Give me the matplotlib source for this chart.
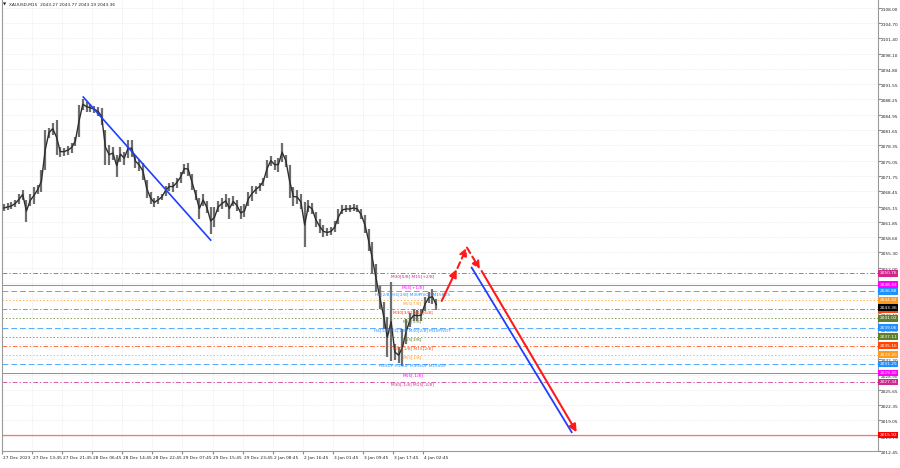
import matplotlib
matplotlib.use("Agg")
import matplotlib.pyplot as plt
import numpy as np

# ---------------- data ----------------
header_text = "XAUUSD,M15  2043.27 2043.77 2043.19 2043.36"

# price range per column (each column = 4 M15 bars)
bars_per_column = 4
highs = [2065.60, 2065.81, 2066.03, 2066.67, 2067.75, 2068.82, 2066.67, 2067.75, 2069.47, 2069.90,
         2073.12, 2081.73, 2082.16, 2083.23, 2083.88, 2078.07, 2077.85, 2078.28, 2078.93, 2080.22,
         2087.10, 2088.39, 2087.75, 2087.32, 2086.89, 2086.67, 2086.46, 2081.73, 2078.50, 2078.07,
         2076.35, 2078.07, 2076.99, 2079.57, 2079.57, 2076.35, 2075.27, 2074.63, 2070.97, 2068.39,
         2067.10, 2067.53, 2067.96, 2069.68, 2070.33, 2070.54, 2071.40, 2072.69, 2074.41, 2074.63,
         2072.26, 2068.82, 2067.10, 2067.96, 2066.24, 2064.95, 2064.95, 2066.24, 2067.10, 2067.75,
         2067.10, 2067.32, 2066.67, 2065.17, 2065.60, 2068.39, 2069.68, 2069.68, 2070.33, 2071.40,
         2075.27, 2076.13, 2075.27, 2075.70, 2078.93, 2076.35, 2074.20, 2069.47, 2068.82, 2067.75,
         2066.03, 2066.67, 2065.81, 2063.88, 2062.37, 2061.08, 2060.43, 2060.65, 2061.94, 2064.52,
         2065.38, 2065.38, 2065.38, 2065.60, 2065.38, 2064.52, 2063.23, 2060.22, 2057.42, 2052.69,
         2047.96, 2044.52, 2041.30, 2048.82, 2035.49, 2034.84, 2038.72, 2040.87, 2042.16, 2043.02,
         2042.80, 2043.02, 2045.60, 2046.67, 2047.32, 2045.17]
lows = [2064.09, 2064.31, 2064.52, 2064.95, 2065.60, 2066.67, 2061.72, 2065.17, 2065.60, 2067.75,
        2068.18, 2073.12, 2080.00, 2080.65, 2076.35, 2075.92, 2076.13, 2076.35, 2076.78, 2078.28,
        2080.22, 2086.03, 2085.60, 2085.60, 2085.38, 2084.74, 2082.80, 2074.20, 2074.20, 2075.27,
        2071.62, 2074.84, 2074.20, 2075.70, 2075.92, 2073.55, 2072.90, 2070.97, 2067.10, 2065.60,
        2064.95, 2065.60, 2066.46, 2067.53, 2068.61, 2068.39, 2069.25, 2070.33, 2072.26, 2071.83,
        2068.82, 2066.67, 2062.37, 2065.17, 2063.66, 2059.15, 2060.65, 2063.88, 2064.52, 2064.95,
        2062.37, 2065.17, 2064.09, 2062.37, 2062.80, 2065.17, 2066.24, 2067.96, 2068.61, 2069.68,
        2071.40, 2073.98, 2073.12, 2072.69, 2074.84, 2073.77, 2067.10, 2065.17, 2065.60, 2064.52,
        2056.35, 2063.88, 2063.45, 2060.65, 2059.36, 2058.50, 2058.71, 2058.93, 2059.57, 2061.30,
        2063.45, 2063.88, 2063.88, 2064.09, 2063.88, 2062.37, 2059.36, 2055.49, 2050.54, 2046.67,
        2043.02, 2038.72, 2032.69, 2031.83, 2032.05, 2031.40, 2030.76, 2035.49, 2039.15, 2040.44,
        2040.44, 2040.44, 2042.59, 2044.31, 2044.09, 2042.80]

time_labels = ["27 Dec 2023", "27 Dec 13:45", "27 Dec 21:45", "28 Dec 06:45", "28 Dec 14:45",
               "28 Dec 22:45", "29 Dec 07:45", "29 Dec 15:45", "29 Dec 23:45", "2 Jan 08:45",
               "2 Jan 16:45", "3 Jan 01:45", "3 Jan 09:45", "3 Jan 17:45", "4 Jan 02:45"]
bars_per_label = 32

price_ticks = [2108.00, 2104.70, 2101.40, 2098.10, 2094.80, 2091.55, 2088.25, 2084.95, 2081.65,
               2078.35, 2075.05, 2071.75, 2068.45, 2065.15, 2061.85, 2058.60, 2055.30, 2052.00,
               2048.70, 2045.40, 2042.10, 2038.80, 2035.50, 2032.20, 2028.90, 2025.65, 2022.35,
               2019.05, 2015.75, 2012.45]

levels = [2050.76, 2048.33, 2046.88, 2044.92, 2042.97, 2041.02, 2039.06, 2037.11, 2035.16,
          2033.20, 2031.25, 2029.30, 2027.34]
level_names = ["M30[5/8] M15[+2/8]", "M15[+1/8]", "H4[2/8] H1[2/8] M30PIVOT M15RES", "M15[7/8]",
               "M30[3/8] M15[6/8]", "M15[5/8]", "H4[1/8] H1[1/8] M30[2/8] M15PIVOT", "M15[3/8]",
               "M30[1/8] M15[2/8]", "M15[1/8]", "H4SUP H1SUP M30SUP M15SUP", "M15[-1/8]",
               "M30[-1/8] M15[-2/8]"]
level_colors = ["#d0278c", "#ff00ff", "#1e90ff", "#ff9a1a", "#ff4500", "#5f7f2a", "#1e90ff",
                "#5f7f2a", "#ff4500", "#ff9a1a", "#1e90ff", "#ff00ff", "#d0278c"]
level_styles = ["dashdot", "solid", "dashed", "dotted", "dashdot", "dotted", "dashed",
                "dotted", "dashdot", "dotted", "dashed", "solid", "dashdot"]

current_price = 2043.36
target_price = 2015.92

# drawn objects: (bar index, price)
trend_x = [86.5, 222.0]
trend_y = [2088.76, 2057.92]
fc_up_x = [467.8, 483.7]
fc_up_y = [2044.80, 2051.62]
fc_dash1_x = [484.6, 494.4]
fc_dash1_y = [2051.90, 2056.29]
fc_dash2_x = [494.7, 508.5]
fc_dash2_y = [2056.29, 2051.62]
fc_down_x = [510.3, 611.4]
fc_down_y = [2051.25, 2016.50]
blue_down_x = [499.7, 606.1]
blue_down_y = [2051.98, 2016.50]

# ---------------- figure ----------------
W, H = 900, 468
fig = plt.figure(figsize=(W / 100, H / 100), dpi=100)
ax = fig.add_axes([2 / W, 17 / H, 876 / W, 451 / H])
ax.set_xlim(0, 932)
ax.set_ylim(2012.70, 2109.68)

ax.spines["top"].set_visible(False)
for s in ["left", "right", "bottom"]:
    ax.spines[s].set_color("#9a9a9a")
    ax.spines[s].set_linewidth(0.8)

style_map = {"solid": "-", "dashed": (0, (6, 3)), "dotted": (0, (1.5, 2)),
             "dashdot": (0, (5, 2, 1.5, 2))}

# grid
label_pos = np.arange(len(time_labels)) * bars_per_label
ax.set_xticks(label_pos)
ax.set_yticks(price_ticks)
ax.tick_params(axis="x", length=2, color="#8c8c8c", labelbottom=False)
ax.tick_params(axis="y", length=2, color="#8c8c8c", left=False, right=True,
               labelleft=False, labelright=False)
ax.grid(True, color="#e2e2e2", linestyle=(0, (1, 1.5)), linewidth=0.5)
ax.set_axisbelow(True)

# level lines
for lv, c, st in zip(levels, level_colors, level_styles):
    ax.axhline(lv, color=c, linestyle=style_map[st], linewidth=0.7, alpha=0.75, zorder=1)
ax.axhline(target_price, color="#ff5050", linewidth=0.9, alpha=0.8, zorder=2)

# price bars
xs = np.arange(len(highs)) * bars_per_column + bars_per_column / 2
mids = (np.array(highs) + np.array(lows)) / 2
ax.vlines(xs, lows, highs, color="#6e6e6e", linewidth=1.6, zorder=3)
ax.plot(xs, mids, color="#2e2e2e", linewidth=1.0, zorder=3.5)

# level labels inside plot
for lv, name, c in zip(levels, level_names, level_colors):
    ax.text(437, lv - 0.15, name, color=c, fontsize=3.1, ha="center", va="top", zorder=4)

# trend line and forecast path
ax.plot(trend_x, trend_y, color="#1f3fff", linewidth=1.2, zorder=5)
ax.plot(blue_down_x, blue_down_y, color="#1f3fff", linewidth=1.3, zorder=5)


def arrow(xv, yv, ls):
    ax.annotate("", xy=(xv[1], yv[1]), xytext=(xv[0], yv[0]),
                arrowprops=dict(arrowstyle="-|>,head_length=0.45,head_width=0.22",
                                color="#ff1a1a", lw=1.5, linestyle=ls,
                                shrinkA=0, shrinkB=0), zorder=6)


arrow(fc_up_x, fc_up_y, "-")
arrow(fc_dash1_x, fc_dash1_y, (0, (3, 2)))
arrow(fc_dash2_x, fc_dash2_y, (0, (3, 2)))
arrow(fc_down_x, fc_down_y, "-")

# right price axis labels
ytr = ax.get_yaxis_transform()
for p in price_ticks:
    ax.text(1.0025, p - 0.45, f"{p:.2f}", transform=ytr, fontsize=3.1, color="#222222",
            ha="left", va="center", clip_on=False)

box_levels = levels + [current_price, target_price]
box_colors = level_colors + ["#000000", "#ff0000"]
for lv, c in zip(box_levels, box_colors):
    ax.text(1.0015, lv, f"{lv:.2f}", transform=ytr, fontsize=3.1, color="white",
            ha="left", va="center", clip_on=False, zorder=10,
            bbox=dict(boxstyle="square,pad=0.3", fc=c, ec="none"))

# time axis labels
xtr = ax.get_xaxis_transform()
for pos, lab in zip(label_pos, time_labels):
    ax.text(pos + 1, -0.012, lab, transform=xtr, fontsize=3.1, color="#222222",
            ha="left", va="top", clip_on=False)

# header
fig.text(3 / W, 1 - 4.5 / H, "\u25bc", fontsize=3, color="#222222", va="center", ha="left")
fig.text(9 / W, 1 - 4.5 / H, header_text, fontsize=3.1, color="#222222", va="center", ha="left")

fig.savefig("out.png", dpi=100, facecolor="white")
